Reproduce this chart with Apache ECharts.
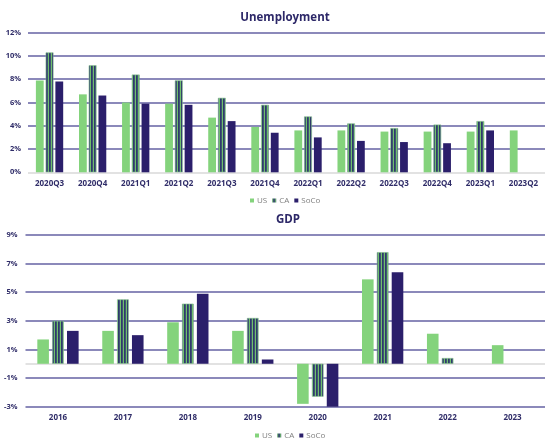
<!DOCTYPE html>
<html>
<head>
<meta charset="utf-8">
<script src="https://cdn.jsdelivr.net/npm/echarts@6/dist/echarts.min.js"></script>
<style>
  html, body { margin: 0; padding: 0; background: #ffffff; }
  #chart { width: 545px; height: 440px; }
</style>
</head>
<body>
<div id="chart"></div>
<script>
// Unemployment rate by quarter (%)
const quarters = ['2020Q3', '2020Q4', '2021Q1', '2021Q2', '2021Q3', '2021Q4',
                  '2022Q1', '2022Q2', '2022Q3', '2022Q4', '2023Q1', '2023Q2'];
const unempUS   = [7.9, 6.7, 6.0, 5.9, 4.7, 3.9, 3.6, 3.6, 3.5, 3.5, 3.5, 3.6];
const unempCA   = [10.3, 9.2, 8.4, 7.9, 6.4, 5.8, 4.8, 4.2, 3.8, 4.1, 4.4, null];
const unempSoCo = [7.8, 6.6, 5.9, 5.8, 4.4, 3.4, 3.0, 2.7, 2.6, 2.5, 3.6, null];

// GDP growth by year (%)
const years   = ['2016', '2017', '2018', '2019', '2020', '2021', '2022', '2023'];
const gdpUS   = [1.7, 2.3, 2.9, 2.3, -2.8, 5.9, 2.1, 1.3];
const gdpCA   = [3.0, 4.5, 4.2, 3.2, -2.3, 7.8, 0.4, null];
const gdpSoCo = [2.3, 2.0, 4.9, 0.3, -3.0, 6.4, null, null];

// Value-axis ranges: [min, max, step]
const unempRange = [0, 12, 2];
const gdpRange   = [-3, 9, 2];

const seriesNames = ['US', 'CA', 'SoCo'];

const GREEN = '#84d37c';
const NAVY = '#2b1f6b';
const GRID = '#6462a3';
const LABEL = '#2f2c68';

// vertical stripes for the CA bars
function stripePattern() {
  const c = document.createElement('canvas');
  c.width = 3; c.height = 4;
  const g = c.getContext('2d');
  g.fillStyle = '#6fbf6c'; g.fillRect(0, 0, 1, 4);
  g.fillStyle = '#2f3a6a'; g.fillRect(1, 0, 1, 4);
  g.fillStyle = '#3f5673'; g.fillRect(2, 0, 1, 4);
  return { image: c, repeat: 'repeat' };
}
const caFill = stripePattern();

const FONT = '"Open Sans", "Noto Sans", sans-serif';

function valueAxis(gridIndex, range, margin, lineColors) {
  return {
    type: 'value', gridIndex: gridIndex,
    min: range[0], max: range[1], interval: range[2],
    axisLine: { show: false }, axisTick: { show: false },
    axisLabel: {
      formatter: v => v + '%', margin: margin,
      color: LABEL, fontSize: 7.5, fontWeight: 'bold', fontFamily: FONT
    },
    splitLine: { show: true, lineStyle: { color: lineColors, width: 1.5 } }
  };
}

function catAxis(gridIndex, data, margin) {
  return {
    type: 'category', gridIndex: gridIndex, data: data,
    position: 'bottom',
    axisLine: { show: false, onZero: false }, axisTick: { show: false },
    axisLabel: {
      margin: margin, color: LABEL, fontSize: 8, fontWeight: 'bold', fontFamily: FONT,
      interval: 0
    },
    splitLine: { show: false }
  };
}

function barSeries(name, data, axisIndex, width, gap) {
  const s = {
    name: name, type: 'bar', data: data,
    xAxisIndex: axisIndex, yAxisIndex: axisIndex,
    barWidth: width, barGap: gap,
    itemStyle: {}
  };
  if (name === 'US') s.itemStyle.color = GREEN;
  if (name === 'SoCo') s.itemStyle.color = NAVY;
  if (name === 'CA') {
    s.itemStyle.color = caFill;
    s.itemStyle.borderColor = '#7fb889';
    s.itemStyle.borderWidth = 0.6;
  }
  return s;
}

const chart = echarts.init(document.getElementById('chart'), null, { renderer: 'canvas' });

const gdpSeries = [
  barSeries('US', gdpUS, 1, 11.6, '28%'),
  barSeries('CA', gdpCA, 1, 11.6, '28%'),
  barSeries('SoCo', gdpSoCo, 1, 11.6, '28%')
];
// light zero line across the GDP panel
gdpSeries[0].markLine = {
  silent: true, symbol: 'none', z: 1,
  label: { show: false },
  lineStyle: { color: '#d9d9d9', width: 1.5, type: 'solid' },
  data: [{ yAxis: 0 }]
};

const legendBase = {
  data: seriesNames, icon: 'rect', itemWidth: 4, itemHeight: 4, itemGap: 5, padding: 0,
  itemStyle: { borderWidth: 0 },
  textStyle: { fontSize: 8, color: '#7f7f7f', fontFamily: FONT, padding: [0, 0, 0, -2] }
};

chart.setOption({
  animation: false,
  backgroundColor: '#ffffff',
  textStyle: { fontFamily: FONT },
  title: [
    { text: 'Unemployment', left: 280, top: 7, textAlign: 'center',
      textStyle: { fontSize: 11.5, fontWeight: 'bold', color: '#2d2868', fontFamily: FONT } },
    { text: 'GDP', left: 283, top: 209, textAlign: 'center',
      textStyle: { fontSize: 11.5, fontWeight: 'bold', color: '#2d2868', fontFamily: FONT } }
  ],
  legend: [
    Object.assign({ left: 250, top: 196.5 }, legendBase),
    Object.assign({ left: 255, top: 431.5 }, legendBase)
  ],
  grid: [
    { left: 28, top: 32.7, width: 521, height: 139.6, containLabel: false },
    { left: 25.5, top: 235, width: 533, height: 171.7, containLabel: false }
  ],
  xAxis: [catAxis(0, quarters, 7), catAxis(1, years, 7)],
  yAxis: [
    valueAxis(0, unempRange, 7, ['#d9d9d9', GRID, GRID, GRID, GRID, GRID, GRID]),
    valueAxis(1, gdpRange, 8, GRID)
  ],
  series: [
    barSeries('US', unempUS, 0, 7.8, '25%'),
    barSeries('CA', unempCA, 0, 7.8, '25%'),
    barSeries('SoCo', unempSoCo, 0, 7.8, '25%')
  ].concat(gdpSeries)
});
</script>
</body>
</html>
